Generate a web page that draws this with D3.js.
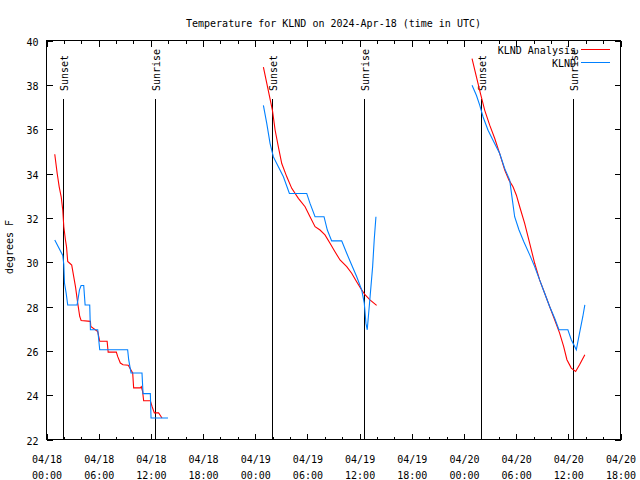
<!DOCTYPE html>
<html>
<head>
<meta charset="utf-8">
<script src="https://cdn.jsdelivr.net/npm/d3@7"></script>
<style>
  html, body { margin: 0; padding: 0; background: #fff; }
  svg { display: block; }
  text { font-family: "DejaVu Sans Mono", monospace; font-size: 10px; fill: #000; }
</style>
</head>
<body>
<svg id="chart" width="640" height="480"></svg>
<script>
// Times are hours since 2024-04-18 00:00 UTC; null separates gaps
const analysisHours = [
  0.95, 1.23, 1.46, 1.69, 1.87, 1.99, 2.18, 2.30, 2.44, 2.67, 2.90, 3.13, 3.33, 3.59, 3.82, 3.98, 5.05, 5.09, 5.89, 6.12, 6.97, 7.09, 8.03, 8.18, 8.49, 8.80, 9.40, 9.91, 10.02, 10.79, 10.90, 11.05, 11.17, 11.94, 12.13, 12.40, 12.89, 13.09, 13.28,
  null,
  24.94, 25.98, 26.29, 26.66, 27.05, 27.63, 28.20, 28.96, 29.73, 30.30, 30.88, 31.45, 32.02, 32.60, 33.17, 33.75, 34.52, 35.09, 35.66, 36.24, 36.62, 37.19, 37.96,
  null,
  48.93, 49.44, 49.90, 50.39, 50.96, 51.54, 52.11, 52.69, 53.18, 53.64, 54.03, 54.41, 54.98, 55.56, 56.13, 56.70, 57.28, 57.85, 58.43, 59.00, 59.46, 59.84, 60.34, 60.84, 61.29, 61.90
];
const analysisTemps = [
  34.87, 34.0, 33.4, 32.95, 32.35, 31.6, 31.0, 30.7, 30.03, 29.95, 29.87, 29.35, 28.9, 28.15, 27.55, 27.37, 27.33, 27.1, 26.87, 26.43, 26.43, 25.94, 25.94, 25.75, 25.45, 25.37, 25.35, 25.0, 24.33, 24.33, 24.38, 24.17, 23.75, 23.75, 23.5, 23.2, 23.2, 23.08, 22.97,
  null,
  38.8, 36.85, 35.95, 35.2, 34.45, 33.85, 33.33, 32.88, 32.5, 32.05, 31.6, 31.45, 31.23, 30.85, 30.47, 30.1, 29.8, 29.5, 29.12, 28.75, 28.53, 28.3, 28.05,
  null,
  39.18, 38.35, 37.6, 36.85, 36.18, 35.58, 34.9, 34.15, 33.7, 33.4, 33.02, 32.5, 31.75, 30.85, 29.95, 29.2, 28.6, 28.0, 27.4, 26.8, 26.2, 25.6, 25.22, 25.07, 25.37, 25.82
];
const obsHours = [
  0.95, 1.87, 1.99, 2.07, 2.26, 2.44, 3.52, 3.79, 3.98, 4.28, 4.44, 4.97, 5.05, 5.89, 6.12, 9.33, 9.45, 9.72, 10.98, 11.10, 11.94, 12.02, 13.97,
  null,
  24.94, 25.33, 25.71, 26.09, 26.66, 27.24, 27.93, 29.92, 30.30, 30.88, 31.91, 32.29, 32.79, 33.94, 34.52, 35.09, 35.66, 36.24, 36.54, 36.73, 36.88, 37.11, 37.50, 37.68, 37.88,
  null,
  48.93, 49.44, 49.82, 50.20, 50.77, 51.34, 52.11, 52.69, 53.26, 53.57, 53.83, 54.33, 54.87, 55.56, 56.13, 56.70, 57.28, 57.85, 58.43, 58.92, 59.95, 60.34, 60.92, 61.29, 61.67, 61.90
];
const obsTemps = [
  31.0, 30.3, 29.9, 29.05, 28.6, 28.07, 28.07, 28.75, 28.95, 28.95, 28.07, 28.07, 26.95, 26.95, 26.05, 26.05, 25.6, 25.0, 25.0, 24.07, 24.07, 22.97, 22.97,
  null,
  37.07, 36.25, 35.35, 34.75, 34.3, 33.85, 33.1, 33.1, 32.65, 32.05, 32.05, 31.45, 30.96, 30.96, 30.4, 29.87, 29.35, 28.75, 28.15, 27.25, 26.95, 28.0, 29.8, 31.0, 32.05,
  null,
  37.98, 37.52, 37.07, 36.55, 35.95, 35.5, 34.9, 34.22, 33.7, 32.8, 32.05, 31.45, 30.93, 30.33, 29.8, 29.2, 28.6, 28.0, 27.47, 26.95, 26.95, 26.5, 26.05, 26.8, 27.55, 28.07
];
const sunEventHours = [1.99, 12.53, 25.93, 36.52, 50.0, 60.55];
const sunEventLabels = ["Sunset", "Sunrise", "Sunset", "Sunrise", "Sunset", "Sunrise"];
const yTicks = [22, 24, 26, 28, 30, 32, 34, 36, 38, 40];
const seriesNames = ["KLND Analysis", "KLND"];
const seriesColors = ["#ff0000", "#0080ff"];
const titleText = "Temperature for KLND on 2024-Apr-18 (time in UTC)";
const yLabel = "degrees F";

const start = Date.UTC(2024, 3, 18, 0, 0);
const toDate = h => new Date(start + h * 3600000);

const L = 46.5, R = 620.5, T = 40.5, B = 439.5;
const svg = d3.select("#chart");

const x = d3.scaleUtc().domain([new Date(start), new Date(Date.UTC(2024, 3, 20, 18))]).range([L, R]);
const y = d3.scaleLinear().domain([22, 40]).range([B, T]);

// title
svg.append("text").attr("x", 333.5).attr("y", 27).attr("text-anchor", "middle").text(titleText);
// y label
svg.append("text").attr("transform", "translate(13,247) rotate(-90)").attr("text-anchor", "middle").text(yLabel);

const crisp = g => g.attr("shape-rendering", "crispEdges");

// axes
const major = x.ticks(d3.utcHour.every(6));
const minor = x.ticks(d3.utcHour.every(2));

function styleAxis(g) {
  g.select(".domain").remove();
  g.selectAll(".tick line").attr("stroke", "#000");
  g.attr("font-family", null).attr("font-size", null);
  crisp(g);
}

svg.append("g").attr("transform", `translate(0,${B})`)
  .call(d3.axisBottom(x).tickValues(minor).tickSize(-3).tickFormat(""))
  .call(styleAxis).selectAll("text").remove();
svg.append("g").attr("transform", `translate(0,${T})`)
  .call(d3.axisTop(x).tickValues(minor).tickSize(-3).tickFormat(""))
  .call(styleAxis).selectAll("text").remove();
svg.append("g").attr("transform", `translate(0,${T})`)
  .call(d3.axisTop(x).tickValues(major).tickSize(-6).tickFormat(""))
  .call(styleAxis).selectAll("text").remove();

const gxb = svg.append("g").attr("transform", `translate(0,${B})`)
  .call(d3.axisBottom(x).tickValues(major).tickSize(-6).tickFormat(""))
  .call(styleAxis);
gxb.selectAll(".tick text").remove();
const fmtD = d3.utcFormat("%m/%d"), fmtT = d3.utcFormat("%H:%M");
gxb.selectAll(".tick").each(function(d) {
  const t = d3.select(this).append("text").attr("text-anchor", "middle");
  t.append("tspan").attr("x", 0).attr("y", 23.5).text(fmtD(d));
  t.append("tspan").attr("x", 0).attr("y", 39.5).text(fmtT(d));
});

const gyl = svg.append("g").attr("transform", `translate(${L},0)`)
  .call(d3.axisLeft(y).tickValues(yTicks).tickSize(-6).tickPadding(8).tickFormat(d3.format("d")))
  .call(styleAxis);
gyl.selectAll(".tick text").attr("dy", "0.45em").attr("fill", "#000");
svg.append("g").attr("transform", `translate(${R},0)`)
  .call(d3.axisRight(y).tickValues(yTicks).tickSize(-6).tickFormat(""))
  .call(styleAxis).selectAll("text").remove();

// frame
svg.append("rect").attr("x", L).attr("y", T).attr("width", R - L).attr("height", B - T)
  .attr("fill", "none").attr("stroke", "#000").attr("shape-rendering", "crispEdges");

// sun lines
const sun = svg.append("g");
sunEventHours.forEach((h, i) => {
  const px = Math.floor(x(toDate(h))) + 0.5;
  sun.append("line").attr("x1", px).attr("x2", px).attr("y1", 99).attr("y2", B)
    .attr("stroke", "#000").attr("shape-rendering", "crispEdges");
  sun.append("text").attr("transform", `translate(${px + 4},91) rotate(-90)`)
    .attr("text-anchor", "start").text(sunEventLabels[i]);
});

// data lines
const line = d3.line()
  .defined(d => d.v !== null)
  .x(d => x(toDate(d.h)))
  .y(d => y(d.v));
const analysis = analysisHours.map((h, i) => ({ h, v: h === null ? null : analysisTemps[i] }));
const obs = obsHours.map((h, i) => ({ h, v: h === null ? null : obsTemps[i] }));
[analysis, obs].forEach((data, i) => {
  svg.append("path").datum(data).attr("d", line)
    .attr("fill", "none").attr("stroke", seriesColors[i]).attr("stroke-width", 1.1);
});

// legend
seriesNames.forEach((name, i) => {
  const cy = 49.5 + i * 13;
  svg.append("text").attr("x", 576).attr("y", cy + 4).attr("text-anchor", "end").text(name);
  svg.append("line").attr("x1", 581).attr("x2", 610).attr("y1", cy).attr("y2", cy)
    .attr("stroke", seriesColors[i]).attr("shape-rendering", "crispEdges");
});
</script>
</body>
</html>
